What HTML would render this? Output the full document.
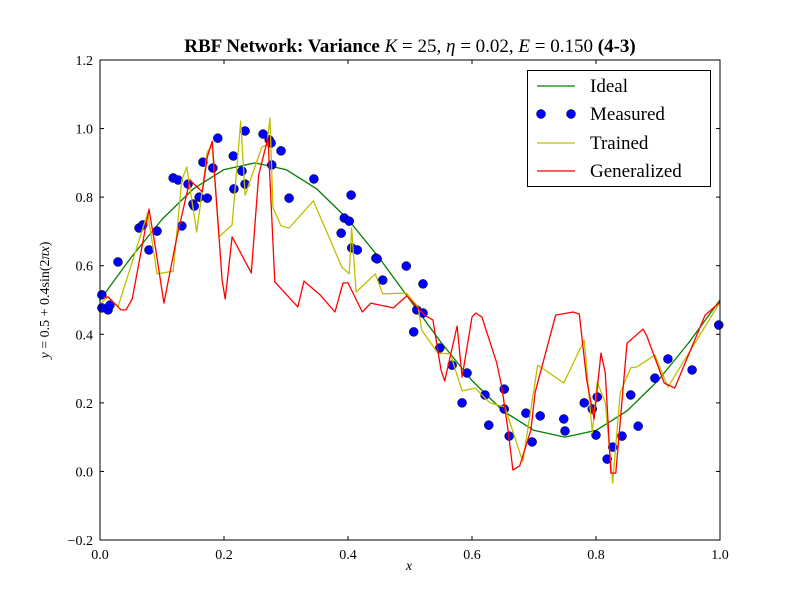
<!DOCTYPE html>
<html><head><meta charset="utf-8"><style>
body{margin:0;background:#fff;}
svg text{font-family:"Liberation Serif","DejaVu Serif",serif;}
</style></head><body>
<svg id="chart" width="800" height="600" xmlns="http://www.w3.org/2000/svg">
<rect width="800" height="600" fill="#fff"/>
<g id="plot"></g>
</svg>
<script>
const xTicks=[0,0.2,0.4,0.6,0.8,1.0];
const xTickLabels=["0.0","0.2","0.4","0.6","0.8","1.0"];
const yTicks=[-0.2,0,0.2,0.4,0.6,0.8,1.0,1.2];
const yTickLabels=["\u22120.2","0.0","0.2","0.4","0.6","0.8","1.0","1.2"];
const idealX=[0,0.05,0.1,0.15,0.2,0.25,0.3,0.35,0.4,0.45,0.5,0.55,0.6,0.65,0.7,0.75,0.8,0.85,0.9,0.95,1];
const idealY=[0.5,0.6236,0.7351,0.8236,0.8804,0.9,0.8804,0.8236,0.7351,0.6236,0.5,0.3764,0.2649,0.1764,0.1196,0.1,0.1196,0.1764,0.2649,0.3764,0.5];
const measX=[.003,.003,.013,.016,.029,.063,.069,.079,.092,.118,.126,.132,.142,.150,.152,.160,.166,.173,.182,.190,.215,.216,.229,.234,.234,.263,.273,.276,.277,.292,.305,.345,.405,.394,.402,.389,.406,.415,.445,.447,.456,.494,.521,.511,.521,.506,.548,.568,.592,.584,.621,.652,.652,.627,.687,.710,.660,.697,.748,.750,.781,.794,.802,.800,.818,.827,.842,.856,.868,.895,.916,.955,.998];
const measY=[.515,.477,.471,.485,.611,.710,.719,.646,.701,.856,.850,.716,.838,.780,.774,.800,.902,.797,.885,.972,.920,.824,.876,.993,.838,.984,.967,.958,.894,.935,.797,.853,.806,.739,.730,.695,.652,.646,.622,.620,.558,.599,.547,.471,.462,.407,.360,.310,.287,.200,.223,.240,.182,.135,.170,.162,.103,.086,.153,.118,.200,.182,.217,.106,.036,.071,.103,.223,.132,.272,.328,.296,.427];
const trainX=[.002,.013,.029,.077,.092,.118,.132,.140,.156,.173,.181,.192,.213,.227,.234,.261,.269,.274,.279,.292,.305,.344,.363,.390,.402,.406,.413,.444,.456,.494,.513,.519,.545,.565,.584,.605,.629,.653,.682,.706,.748,.781,.794,.802,.815,.827,.839,.856,.866,.895,.916,1.0];
const trainY=[.491,.509,.480,.754,.576,.584,.850,.888,.698,.931,.952,.684,.719,1.022,.806,.946,.952,1.031,.769,.716,.710,.789,.710,.596,.576,.710,.523,.576,.518,.520,.480,.412,.345,.343,.235,.243,.200,.188,.028,.310,.258,.383,.112,.261,.200,-.034,.229,.302,.305,.340,.246,.494];
const genX=[.005,.013,.034,.042,.052,.079,.090,.103,.124,.145,.165,.173,.181,.197,.202,.213,.244,.256,.271,.282,.319,.329,.355,.379,.392,.400,.423,.437,.473,.495,.523,.537,.550,.556,.576,.584,.600,.606,.616,.640,.648,.658,.666,.677,.695,.702,.735,.763,.773,.785,.797,.808,.815,.824,.832,.850,.876,.882,.910,.927,.976,1.0];
const genY=[.506,.509,.471,.471,.503,.765,.646,.491,.684,.850,.815,.917,.963,.558,.503,.684,.579,.865,.973,.553,.480,.555,.515,.465,.550,.550,.465,.491,.477,.512,.456,.442,.296,.264,.424,.275,.450,.462,.450,.316,.246,.121,.004,.016,.121,.232,.456,.465,.459,.267,.153,.345,.287,-.005,-.005,.374,.415,.395,.258,.243,.456,.494];

const L=100,R=720,T=60,B=540,xmin=0,xmax=1,ymin=-0.2,ymax=1.2;
const sx=v=>L+(v-xmin)/(xmax-xmin)*(R-L);
const sy=v=>B-(v-ymin)/(ymax-ymin)*(B-T);
const NS="http://www.w3.org/2000/svg";
const g=document.getElementById('plot');
function mk(tag,attrs,parent){const e=document.createElementNS(NS,tag);for(const k in attrs)e.setAttribute(k,attrs[k]);(parent||g).appendChild(e);return e;}
function poly(xs,ys,color,name){
  const p=mk('polyline',{points:xs.map((x,i)=>sx(x).toFixed(1)+','+sy(ys[i]).toFixed(1)).join(' '),fill:'none',stroke:color,'stroke-width':1.3,'stroke-linejoin':'round'});
  
  
}
poly(idealX,idealY,'#008000','ideal-line');
const mg=mk('g',{});


measX.forEach((x,i)=>{
  const c=mk('circle',{cx:sx(x),cy:sy(measY[i]),r:4.5,fill:'#0000ff',stroke:'#000','stroke-width':0.5},mg);
  
  
});
poly(trainX,trainY,'#bfbf00','trained-line');
poly(genX,genY,'#ff0000','generalized-line');
const fr=mk('rect',{x:L,y:T,width:R-L,height:B-T,fill:'none',stroke:'#000','stroke-width':1});


xTicks.forEach((v,i)=>{
  const x=sx(v);
  mk('line',{x1:x,x2:x,y1:B,y2:B-4,stroke:'#000'});
  mk('line',{x1:x,x2:x,y1:T,y2:T+4,stroke:'#000'});
  const t=mk('text',{x:x,y:B+19,'text-anchor':'middle','font-size':14});
  t.textContent=xTickLabels[i];
  
  
});
yTicks.forEach((v,i)=>{
  const y=sy(v);
  mk('line',{x1:L,x2:L+4,y1:y,y2:y,stroke:'#000'});
  mk('line',{x1:R,x2:R-4,y1:y,y2:y,stroke:'#000'});
  const t=mk('text',{x:L-7,y:y+5,'text-anchor':'end','font-size':14});
  t.textContent=yTickLabels[i];
  
  
});
</script>
<svg style="position:absolute;left:0;top:0" width="800" height="600" xmlns="http://www.w3.org/2000/svg">
<text x="410" y="52" text-anchor="middle" font-size="19" font-family="Liberation Serif,serif"><tspan font-weight="bold">RBF Network: Variance</tspan> <tspan font-style="italic">K</tspan> = 25, <tspan font-style="italic">η</tspan> = 0.02, <tspan font-style="italic">E</tspan> = 0.150 <tspan font-weight="bold">(4-3)</tspan></text>
<text x="409" y="570" text-anchor="middle" font-size="14" font-style="italic" font-family="Liberation Serif,serif">x</text>
<text transform="translate(49,300) rotate(-90)" text-anchor="middle" font-size="14" font-family="Liberation Serif,serif"><tspan font-style="italic">y</tspan> = 0.5 + 0.4sin(2<tspan font-style="italic">πx</tspan>)</text>
<g>
<rect x="527.5" y="70.5" width="183" height="116" fill="#fff" stroke="#000" stroke-width="1"/>
<g><line x1="537" x2="575" y1="86" y2="86" stroke="#008000" stroke-width="1.3"/><text x="590" y="92" font-size="19" font-family="Liberation Serif,serif">Ideal</text></g>
<g><circle cx="541" cy="114" r="4.5" fill="#0000ff" stroke="#000" stroke-width="0.5"/><circle cx="571" cy="114" r="4.5" fill="#0000ff" stroke="#000" stroke-width="0.5"/><text x="590" y="120" font-size="19" font-family="Liberation Serif,serif">Measured</text></g>
<g><line x1="537" x2="575" y1="143" y2="143" stroke="#bfbf00" stroke-width="1.3"/><text x="590" y="149" font-size="19" font-family="Liberation Serif,serif">Trained</text></g>
<g><line x1="537" x2="575" y1="171" y2="171" stroke="#ff0000" stroke-width="1.3"/><text x="590" y="177" font-size="19" font-family="Liberation Serif,serif">Generalized</text></g>
</g>
</svg>
</body></html>
